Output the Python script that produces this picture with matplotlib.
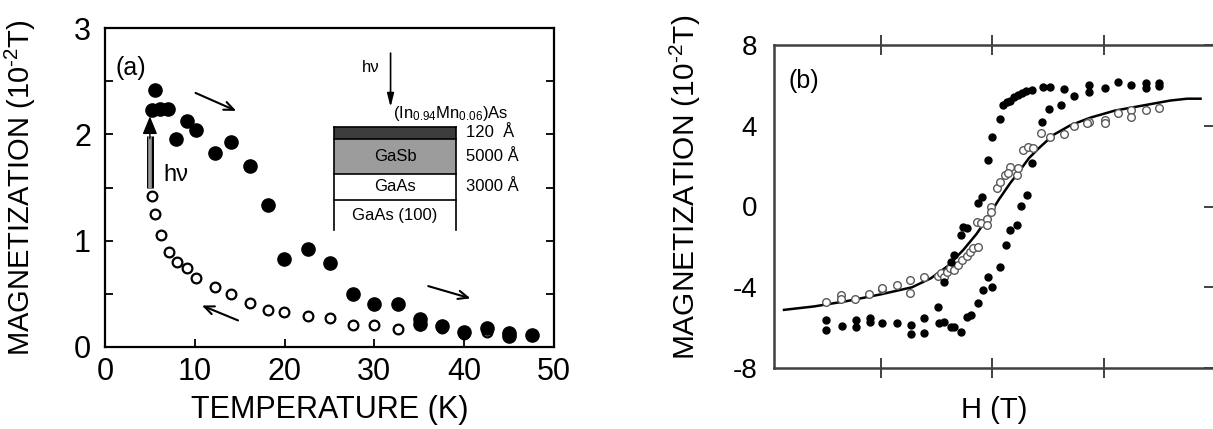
import matplotlib
matplotlib.use('Agg')
import matplotlib.pyplot as plt
from matplotlib.patches import Rectangle

plt.rcParams['font.family'] = ['Liberation Sans', 'DejaVu Sans']
plt.rcParams['mathtext.fontset'] = 'custom'
plt.rcParams['mathtext.rm'] = 'Liberation Sans'
plt.rcParams['mathtext.it'] = 'Liberation Sans:italic'
plt.rcParams['axes.unicode_minus'] = False

# ---- panel (a): magnetization vs temperature ----
warm_T = [5.2, 5.6, 6.1, 7.0, 7.9, 9.1, 10.1, 12.2, 14.0, 16.1, 18.1, 19.9, 22.6, 25.1,
          27.6, 30.0, 32.6, 35.1, 35.1, 37.5, 40.0, 42.5, 45.0, 45.0, 47.5]
warm_M = [2.23, 2.42, 2.24, 2.24, 1.96, 2.13, 2.04, 1.82, 1.93, 1.70, 1.34, 0.83, 0.92, 0.79,
          0.50, 0.40, 0.40, 0.26, 0.22, 0.20, 0.14, 0.18, 0.13, 0.10, 0.11]
cool_T = [5.2, 5.6, 6.2, 7.1, 8.0, 9.1, 10.1, 12.2, 14.0, 16.1, 18.1, 19.9, 22.6, 25.1,
          27.6, 30.0, 32.6, 35.1, 37.5, 40.0, 42.5, 45.0]
cool_M = [1.42, 1.25, 1.05, 0.89, 0.80, 0.74, 0.645, 0.56, 0.50, 0.41, 0.35, 0.33, 0.29, 0.27,
          0.21, 0.21, 0.17, 0.21, 0.18, 0.125, 0.14, 0.10]

# inset: layer stack (boundaries in plot units), names and thicknesses
layer_edges = [2.07, 1.96, 1.63, 1.38, 1.10]
layer_names = ['', 'GaSb', 'GaAs', 'GaAs (100)']
layer_thick = ['120  Å', '5000 Å', '3000 Å', '']
layer_colors = ['#3c3c3c', '#9c9c9c', 'white', 'white']

# ---- panel (b): hysteresis ----
fit_H = [-1.87, -1.6, -1.3, -1.0, -0.72, -0.55, -0.40, -0.26, -0.14, -0.03, 0.06, 0.16,
         0.25, 0.33, 0.42, 0.55, 0.70, 0.88, 1.10, 1.35, 1.60, 1.75, 1.87]
fit_M = [-5.12, -4.95, -4.68, -4.35, -4.0, -3.55, -2.95, -2.15, -1.35, -0.45, 0.35, 1.15,
         1.8, 2.4, 2.9, 3.55, 4.02, 4.4, 4.75, 5.0, 5.25, 5.34, 5.34]

dark_H = [-1.49, -1.49, -1.35, -1.22, -1.22, -1.10, -1.10, -0.99, -0.86, -0.73, -0.73, -0.61, -0.61,
          -0.48, -0.43, -0.37, -0.34, -0.28,
          0.093, 0.128, 0.162, 0.197, 0.232, 0.267, 0.302, 0.354, 0.455, 0.52, 0.64,
          0.068, 0.0, -0.04, -0.09, -0.13, -0.23, -0.26, -0.28, -0.34, -0.37, -0.43, -0.49,
          -0.23, -0.19, -0.13, -0.08, -0.04, 0.0, 0.07, 0.12, 0.16, 0.22, 0.26, 0.31, 0.36,
          0.45, 0.51, 0.62, 0.73, 0.87, 0.87, 1.01, 1.13, 1.25, 1.38, 1.38, 1.50, 1.50]
dark_M = [-5.62, -6.12, -5.92, -5.62, -5.95, -5.54, -5.71, -5.79, -5.79, -5.87, -6.32, -5.54, -6.28,
          -5.79, -5.71, -5.95, -5.95, -6.2,
          5.01, 5.17, 5.25, 5.42, 5.50, 5.62, 5.70, 5.78, 5.93, 5.93, 5.80,
          4.32, 3.43, 2.30, 0.46, 0.16, -1.08, -1.0, -1.41, -2.40, -2.73, -3.72, -4.96,
          -5.49, -5.37, -4.79, -4.14, -3.51, -3.97, -2.98, -1.91, -1.16, -0.92, 0.04, 0.57, 2.17,
          4.2, 4.81, 5.01, 5.45, 6.02, 5.68, 5.85, 6.18, 6.02, 6.10, 5.85, 6.10, 5.95]

open_H = [0.87, 1.01, 1.01, 1.13, 1.25, 1.25, 1.38, 1.50,
          -1.49, -1.36, -1.36, -1.23, -1.11, -0.99, -0.99, -0.86, -0.74, -0.74, -0.61,
          -0.49, -0.46, -0.43, -0.41, -0.38, -0.34, -0.31, -0.27, -0.23, -0.20, -0.17, -0.13,
          -0.14, -0.10, -0.05, -0.05, -0.01, -0.01,
          0.04, 0.07, 0.11, 0.16, 0.14, 0.22, 0.23,
          0.28, 0.32, 0.37, 0.44, 0.52, 0.64, 0.73, 0.85]
open_M = [4.2, 4.28, 4.12, 4.62, 4.78, 4.45, 4.78, 4.86,
          -4.72, -4.38, -4.60, -4.60, -4.33, -4.10, -4.02, -3.89, -3.64, -4.30, -3.51,
          -3.44, -3.31, -3.48, -3.23, -3.06, -3.15, -2.90, -2.65, -2.45, -2.24, -2.07, -2.02,
          -0.75, -0.80, -0.63, -0.92, -0.01, -0.26,
          0.90, 1.23, 1.56, 1.97, 1.64, 1.56, 1.89,
          2.80, 2.96, 2.88, 3.63, 3.46, 3.59, 3.97, 4.14]

ylab = r'MAGNETIZATION (10$^{\text{-}2}$T)'

fig = plt.figure(figsize=(12.13, 4.29), dpi=100)

# ---------------- (a) ----------------
ax = fig.add_axes([105 / 1213, 82 / 429, 449 / 1213, 319 / 429])
ax.plot(cool_T, cool_M, 'o', ms=7, mfc='white', mec='black', mew=1.6, zorder=3)
ax.plot(warm_T, warm_M, 'o', ms=9.5, color='black', zorder=4)
ax.set_xlim(0, 50)
ax.set_ylim(0, 3)
ax.set_xticks([0, 10, 20, 30, 40, 50])
ax.set_yticks([0, 0.5, 1, 1.5, 2, 2.5, 3])
ax.set_yticklabels(['0', '', '1', '', '2', '', '3'])
ax.tick_params(direction='in', length=6, width=1.3, labelsize=22, right=True, top=False)
ax.tick_params(axis='y', pad=10)
ax.tick_params(axis='x', pad=7)
for s in ax.spines.values():
    s.set_linewidth(1.6)
ax.set_xlabel('TEMPERATURE (K)', fontsize=22, labelpad=6)
ax.set_ylabel(ylab, fontsize=21)
ax.yaxis.set_label_coords(-0.15, 0.5)

ax.text(1.2, 2.62, '(a)', fontsize=18, va='center', ha='left')

# light-on arrow: gray double-line stem with a black head
ax.plot([5.0, 5.0], [1.50, 1.98], color='black', lw=5, solid_capstyle='butt', zorder=2)
ax.plot([5.0, 5.0], [1.50, 1.98], color='0.6', lw=2.6, solid_capstyle='butt', zorder=2)
ax.annotate('', xy=(5.0, 2.17), xytext=(5.0, 1.96),
            arrowprops=dict(arrowstyle='-|>,head_length=1.1,head_width=0.45', lw=1,
                            color='black', shrinkA=0, shrinkB=0), zorder=2)
ax.text(6.5, 1.62, 'hν', fontsize=17, ha='left', va='center')

arr = dict(arrowstyle='->,head_length=0.7,head_width=0.3', lw=1.5, color='black')
ax.annotate('', xy=(14.9, 2.21), xytext=(9.8, 2.40), arrowprops=arr)
ax.annotate('', xy=(41.0, 0.45), xytext=(35.7, 0.58), arrowprops=arr)
ax.annotate('', xy=(10.5, 0.40), xytext=(15.1, 0.24), arrowprops=arr)

# inset: sample structure
x0, x1 = 25.5, 39.1
for i in range(len(layer_names)):
    top, bot = layer_edges[i], layer_edges[i + 1]
    ax.add_patch(Rectangle((x0, bot), x1 - x0, top - bot, fc=layer_colors[i],
                           ec='none', zorder=2))
    ax.plot([x0, x1], [top, top], color='black', lw=1.2, zorder=2)
    ax.text((x0 + x1) / 2, (top + bot) / 2, layer_names[i], fontsize=12,
            ha='center', va='center', zorder=3)
    if layer_thick[i]:
        ax.text(40.2, (top + bot) / 2, layer_thick[i], fontsize=12, ha='left',
                va='center')
ax.plot([x0, x0], [layer_edges[-1], layer_edges[0]], color='black', lw=1.2, zorder=2)
ax.plot([x1, x1], [layer_edges[-1], layer_edges[0]], color='black', lw=1.2, zorder=2)
ax.annotate('', xy=(31.8, 2.23), xytext=(31.8, 2.79),
            arrowprops=dict(arrowstyle='-|>,head_length=0.8,head_width=0.2', lw=1.2,
                            color='black'))
ax.text(29.6, 2.63, 'hν', fontsize=12, ha='center', va='center')
ax.text(32.1, 2.20, r'(In$_{0.94}$Mn$_{0.06}$)As', fontsize=12, ha='left', va='center')

# ---------------- (b) ----------------
bx = fig.add_axes([774 / 1213, 61 / 429, 441 / 1213, 323 / 429])
bx.plot(fit_H, fit_M, color='black', lw=1.8, zorder=2)
bx.plot(open_H, open_M, 'o', ms=5.5, mfc='white', mec='0.35', mew=1.0, zorder=3)
bx.plot(dark_H, dark_M, 'o', ms=5, color='black', zorder=4)
bx.set_xlim(-1.96, 2.0)
bx.set_ylim(-8, 8)
bx.set_xticks([-1, 0, 1])
bx.set_xticklabels([])
bx.set_yticks([-8, -4, 0, 4, 8])
bx.tick_params(axis='y', left=False, right=True, direction='in', length=8, width=1.3,
               labelsize=20, pad=12, colors='0.2', labelcolor='black')
bx.tick_params(axis='x', bottom=True, top=True, direction='inout', length=14, width=1.3,
               colors='0.2')
for s in bx.spines.values():
    s.set_linewidth(1.8)
    s.set_color('0.25')
bx.set_xlabel('H (T)', fontsize=21, labelpad=10)
bx.set_ylabel(ylab, fontsize=21.5)
bx.yaxis.set_label_coords(-0.16, 0.56)
bx.text(-1.83, 6.2, '(b)', fontsize=18, va='center', ha='left')

fig.savefig('out.png', dpi=100)
